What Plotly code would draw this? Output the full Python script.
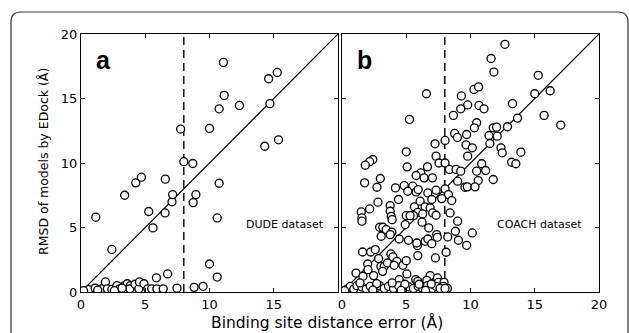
import plotly.graph_objects as go

# ---------------- data ----------------
a_x = [1.15, 2.4, 3.4, 4.26, 4.7, 5.27, 5.6, 6.56, 6.54, 7.08, 7.13, 7.75, 8.0, 8.7, 8.73, 8.94,
       10.0, 11.08, 10.75, 11.14, 12.33, 10.75, 10.6, 14.6, 15.27, 14.7, 14.3, 15.37, 10.0, 10.6,
       0.6, 1.1, 1.6, 1.9, 2.05, 2.4, 2.8, 3.0, 3.4, 3.6, 3.85, 3.8, 4.2, 4.5, 4.55, 4.9, 5.2, 5.5,
       5.9, 6.4, 7.47, 5.87, 6.74, 8.8, 9.5, 0.2, 1.3, 2.6, 3.2]
a_y = [5.8, 3.3, 7.5, 8.46, 8.9, 6.24, 4.97, 8.75, 6.13, 6.99, 7.55, 12.63, 10.1, 9.96, 6.93, 7.55,
       12.68, 17.8, 14.2, 15.24, 14.46, 8.43, 5.74, 16.53, 17.02, 14.6, 11.3, 11.8, 2.17, 1.16,
       0.18, 0.3, 0.25, 0.78, 0.25, 0.2, 0.5, 0.25, 0.5, 0.64, 0.5, 0.25, 0.6, 0.25, 0.78, 0.64, 0.25, 0.25,
       0.25, 0.25, 0.3, 1.1, 1.4, 0.36, 0.44, 0.1, 0.15, 0.1, 0.3]

b_pts = [
    (12.68, 19.2), (11.6, 18.1), (11.82, 17.05), (15.27, 16.8), (10.27, 15.7), (10.63, 15.9),
    (6.57, 15.37), (9.29, 15.2), (15.0, 15.37), (16.2, 15.6), (9.78, 14.5), (9.24, 14.2),
    (10.66, 14.46), (11.05, 14.2), (13.27, 14.6), (5.25, 13.38), (8.67, 13.69), (13.66, 13.48),
    (15.73, 13.69), (17.02, 12.94), (10.48, 13.12), (10.3, 12.73), (11.77, 12.73), (12.03, 12.78),
    (12.88, 12.81), (8.77, 12.29), (8.98, 11.98), (9.7, 12.21), (11.44, 12.13), (12.08, 12.08),
    (8.02, 11.75), (7.24, 11.49), (9.65, 11.41), (10.14, 11.18), (11.51, 11.51), (12.37, 11.18),
    (12.47, 10.79), (13.92, 10.84), (5.0, 10.87), (9.78, 10.53), (7.32, 10.53), (7.55, 10.0),
    (8.02, 10.0), (10.87, 9.94), (13.2, 10.06), (13.53, 9.94), (2.4, 10.27), (2.15, 10.1),
    (1.81, 9.83), (5.07, 9.7), (6.65, 9.7), (8.36, 9.5), (8.87, 9.5), (9.24, 9.37), (10.48, 9.37),
    (11.18, 9.42), (6.13, 9.24), (5.77, 9.03), (6.39, 8.85), (7.04, 8.85), (2.98, 8.8), (1.76, 8.46),
    (2.72, 8.12), (9.0, 8.59), (10.6, 8.64), (11.77, 8.72), (4.16, 8.07), (4.84, 8.25), (5.51, 8.2),
    (5.77, 7.76), (5.12, 7.81), (5.93, 7.94), (6.68, 7.68), (7.32, 7.89), (8.02, 7.99), (8.28, 7.55),
    (9.57, 8.12), (9.75, 8.15), (10.35, 8.15), (6.99, 7.17), (7.76, 7.24), (8.54, 7.09), (2.8, 6.96),
    (2.15, 6.44), (1.5, 6.21), (1.55, 5.74), (1.55, 5.49), (3.75, 6.7), (3.75, 6.26), (4.4, 7.17),
    (3.83, 5.87), (3.9, 5.61), (5.64, 6.6), (6.08, 7.04), (6.47, 6.6), (5.9, 6.18), (6.28, 6.05),
    (6.86, 6.52), (7.06, 6.13), (7.32, 5.95), (5.56, 5.92), (5.0, 5.92), (5.3, 5.92), (8.41, 6.13),
    (4.92, 5.23), (6.23, 5.41), (6.75, 4.97), (9.0, 5.49), (2.93, 5.02), (3.18, 5.02), (3.44, 4.84),
    (3.05, 4.32), (3.88, 4.63), (3.75, 4.45), (4.45, 4.11), (5.17, 4.01), (5.87, 3.6), (5.82, 3.8),
    (6.47, 3.93), (6.68, 4.11), (6.99, 3.75), (7.37, 4.45), (7.42, 4.24), (8.23, 4.27), (8.82, 4.71),
    (9.06, 4.01), (9.7, 3.62), (10.14, 4.58), (8.1, 3.08), (7.27, 2.64), (5.9, 2.82), (1.6, 3.1),
    (2.23, 3.1), (2.59, 3.29), (2.85, 2.59), (3.8, 2.95), (3.96, 2.72), (4.27, 2.38), (4.74, 2.07),
    (5.0, 2.43), (3.03, 1.99), (3.29, 1.99), (3.54, 2.25), (4.06, 2.07), (2.0, 2.17), (2.02, 1.73),
    (3.16, 1.6), (1.09, 1.47), (1.63, 1.22), (2.46, 1.27), (5.05, 1.4), (5.74, 0.96), (6.86, 1.27),
    (7.43, 1.09), (4.45, 0.96), (5.9, 0.83), (6.6, 0.9), (7.5, 0.75), (7.94, 0.75), (7.89, 0.44),
    (8.2, 0.28), (0.39, 0.23), (0.65, 0.44), (0.91, 0.23), (1.16, 0.49), (1.55, 0.39), (1.89, 0.23),
    (2.2, 0.44), (2.59, 0.28), (2.93, 0.49), (3.29, 0.28), (3.62, 0.44), (4.01, 0.28), (4.4, 0.49),
    (4.79, 0.28), (5.2, 0.39), (5.56, 0.28), (5.92, 0.44), (6.28, 0.28), (6.65, 0.49), (7.01, 0.28),
    (7.32, 0.44), (7.63, 0.28), (8.02, 0.28), (1.4, 0.7), (2.7, 0.65), (3.9, 0.7), (4.9, 0.6),
    (6.0, 0.6), (6.95, 0.62), (0.2, 0.1), (2.4, 0.15), (4.6, 0.12), (6.5, 0.12),
]
b_x = [p[0] for p in b_pts]
b_y = [p[1] for p in b_pts]

tick_vals = [0, 5, 10, 15, 20]
a_xtick_text = ["0", "5", "10", "15", ""]
b_xtick_text = ["0", "5", "10", "15", "20"]
y_tick_text = ["0", "5", "10", "15", "20"]
cutoff = 8
labels = ["a", "b"]
datasets = ["DUDE dataset", "COACH dataset"]

# ---------------- figure ----------------
W, H = 629, 333
L, R, T, B = 81, 30, 34, 41
pw, ph = W - L - R, H - T - B

def px(x):
    return (x - L) / pw

def py(y):
    return (H - B - y) / ph

fig = go.Figure()
marker = dict(symbol="circle", size=8, color="white", line=dict(color="black", width=1.3))
for i, (xs, ys) in enumerate([(a_x, a_y), (b_x, b_y)]):
    xa = "x" if i == 0 else "x2"
    ya = "y" if i == 0 else "y2"
    fig.add_trace(go.Scatter(x=[0, 20], y=[0, 20], mode="lines",
                             line=dict(color="black", width=1.2), xaxis=xa, yaxis=ya,
                             showlegend=False, hoverinfo="skip"))
    fig.add_trace(go.Scatter(x=[cutoff, cutoff], y=[0, 20], mode="lines",
                             line=dict(color="black", width=1.4, dash="8px,5px"), xaxis=xa, yaxis=ya,
                             showlegend=False, hoverinfo="skip"))
    fig.add_trace(go.Scatter(x=xs, y=ys, mode="markers", marker=marker, xaxis=xa, yaxis=ya,
                             showlegend=False))

ax_common = dict(range=[0, 20], showgrid=False, zeroline=False, showline=True, linecolor="black",
                 linewidth=1.2, mirror="allticks", ticks="inside", ticklen=4, tickwidth=1,
                 tickcolor="black", tickvals=tick_vals,
                 tickfont=dict(family="DejaVu Sans", size=13, color="black"))
split = (338 - L) / pw
fig.update_layout(
    width=W, height=H, margin=dict(l=L, r=R, t=T, b=B),
    paper_bgcolor="white", plot_bgcolor="white",
    xaxis=dict(domain=[0, split], ticktext=a_xtick_text, anchor="y", **ax_common),
    yaxis=dict(domain=[0, 1], ticktext=y_tick_text, anchor="x", **ax_common),
    xaxis2=dict(domain=[(342 - L) / pw, 1], ticktext=b_xtick_text, anchor="y2", **ax_common),
    yaxis2=dict(domain=[0, 1], ticktext=y_tick_text, anchor="x2", showticklabels=False,
                **{k: v for k, v in ax_common.items()}),
)

ann = []
ann.append(dict(text="Binding site distance error (Å)", xref="paper", yref="paper",
                x=px(327), y=py(322), xanchor="center", yanchor="middle", showarrow=False,
                font=dict(family="DejaVu Sans", size=15.5, color="black")))
ann.append(dict(text="RMSD of models by EDock (Å)", xref="paper", yref="paper",
                x=px(43), y=py(162), xanchor="center", yanchor="middle", showarrow=False,
                textangle=-90,
                font=dict(family="DejaVu Sans", size=12.5, color="black")))
for i in range(2):
    xr = "x" if i == 0 else "x2"
    yr = "y" if i == 0 else "y2"
    ann.append(dict(text="<b>%s</b>" % labels[i], xref=xr, yref=yr, x=1.0, y=18.0,
                    xanchor="left", yanchor="middle", showarrow=False,
                    font=dict(family="Liberation Sans", size=25, color="black")))
    ann.append(dict(text=datasets[i], xref=xr, yref=yr, x=19.1 if i == 0 else 18.8, y=5.2,
                    xanchor="right", yanchor="middle", showarrow=False,
                    font=dict(family="DejaVu Sans", size=11, color="black")))
fig.update_layout(annotations=ann)

# rounded frame around the figure
path = ("M {x0},{yb} L {x0},{y1} Q {x0},{yt} {x2},{yt} L {x3},{yt} Q {x4},{yt} {x4},{y1} L {x4},{yb}"
        .format(x0=px(11), x2=px(21), x3=px(618), x4=px(628), yt=py(12), y1=py(22), yb=py(345)))
fig.add_shape(type="path", xref="paper", yref="paper", path=path,
              line=dict(color="#333333", width=1.2), layer="below")

fig.write_html("out.html")
